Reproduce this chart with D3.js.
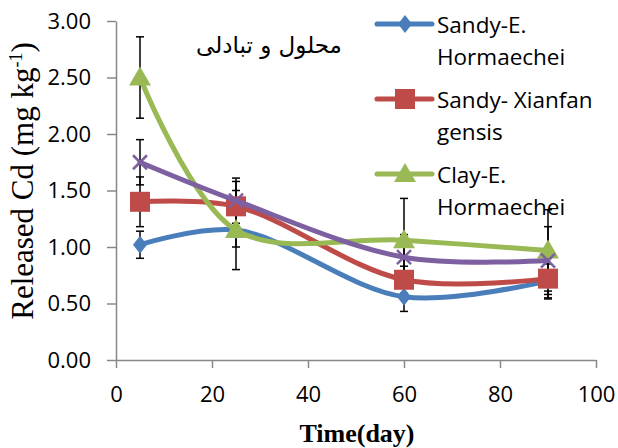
<!DOCTYPE html>
<html>
<head>
<meta charset="utf-8">
<script src="https://cdn.jsdelivr.net/npm/d3@7"></script>
<style>
  body { margin: 0; background: #fff; }
  svg { display: block; }
</style>
</head>
<body>
<div class="canvas"></div>
<script>
// data
const days = [5, 25, 60, 90];
const sandyEH = [1.02, 1.15, 0.56, 0.70];
const sandyEHErr = [0.12, 0.15, 0.13, 0.15];
const sandyXG = [1.40, 1.36, 0.71, 0.72];
const sandyXGErr = [0.22, 0.22, 0.12, 0.18];
const clayEH = [2.50, 1.15, 1.06, 0.97];
const clayEHErr = [0.36, 0.35, 0.37, 0.36];
const clayXG = [1.75, 1.41, 0.91, 0.88];
const clayXGErr = [0.20, 0.20, 0.20, 0.30];
const xTicks = [0, 20, 40, 60, 80, 100];
const yTicks = [0, 0.5, 1, 1.5, 2, 2.5, 3];

const series = [
  { name: ['Sandy-E.', 'Hormaechei'], values: sandyEH, err: sandyEHErr, colour: '#4a7ebb', shape: 'diamond' },
  { name: ['Sandy- Xianfan', 'gensis'], values: sandyXG, err: sandyXGErr, colour: '#be4b48', shape: 'square' },
  { name: ['Clay-E.', 'Hormaechei'], values: clayEH, err: clayEHErr, colour: '#98b954', shape: 'triangle' },
  { name: null, values: clayXG, err: clayXGErr, colour: '#7d60a0', shape: 'x' }
];

const dims = { width: 618, height: 448 };
const plot = { left: 116, right: 596, top: 21, bottom: 360 };

const svg = d3.select('.canvas')
  .append('svg')
  .attr('width', dims.width)
  .attr('height', dims.height);

const x = d3.scaleLinear().domain([0, 100]).range([plot.left, plot.right]);
const y = d3.scaleLinear().domain([0, 3]).range([plot.bottom, plot.top]);

const tickFont = '"Open Sans", sans-serif';

// axes
const xAxis = svg.append('g')
  .attr('transform', `translate(0, ${plot.bottom})`)
  .call(d3.axisBottom(x).tickValues(xTicks).tickSize(8).tickSizeOuter(0).tickPadding(18));
const yAxis = svg.append('g')
  .attr('transform', `translate(${plot.left}, 0)`)
  .call(d3.axisLeft(y).tickValues(yTicks).tickSize(9).tickSizeOuter(0).tickPadding(16).tickFormat(d3.format('.2f')));

[xAxis, yAxis].forEach(ax => {
  ax.select('.domain').attr('stroke', '#888').attr('stroke-width', 1.5);
  ax.selectAll('.tick line').attr('stroke', '#888').attr('stroke-width', 1.5);
  ax.selectAll('.tick text').attr('fill', '#000')
    .style('font-family', tickFont).style('font-size', '22px');
});

// axis titles
svg.append('text')
  .attr('x', 357).attr('y', 442)
  .attr('text-anchor', 'middle')
  .style('font-family', '"Liberation Serif", serif')
  .style('font-weight', 'bold')
  .style('font-size', '26px')
  .text('Time(day)');

const yTitle = svg.append('text')
  .attr('transform', 'translate(33, 181) rotate(-90)')
  .attr('text-anchor', 'middle')
  .style('font-family', '"Liberation Serif", serif')
  .style('font-size', '31px');
yTitle.append('tspan').text('Released Cd (mg kg');
yTitle.append('tspan').attr('dy', -11).style('font-size', '18px').text('-1');
yTitle.append('tspan').attr('dy', 11).text(')');

// persian note
svg.append('text')
  .attr('x', 269).attr('y', 53)
  .attr('text-anchor', 'middle')
  .style('font-family', '"DejaVu Sans", sans-serif')
  .style('font-size', '23px')
  .text('محلول و تبادلی');

// legend (drawn under the data, as in the original)
const legendRows = [24, 99, 174];
series.filter(s => s.name).forEach((s, i) => {
  const g = svg.append('g').attr('transform', `translate(377, ${legendRows[i]})`);
  g.append('line').attr('x1', 0).attr('x2', 55).attr('stroke', s.colour).attr('stroke-width', 5).attr('stroke-linecap', 'round');
  const m = g.append('g').attr('transform', 'translate(28, 0)');
  marker(m, s.shape, s.colour);
  s.name.forEach((t, j) => g.append('text')
    .attr('x', 60).attr('y', 9 + j * 32)
    .style('font-family', tickFont).style('font-size', '22.5px')
    .text(t));
});

function marker(g, shape, colour) {
  if (shape === 'diamond') {
    g.append('path').attr('d', 'M0,-9L7,0L0,9L-7,0Z').attr('fill', colour);
  } else if (shape === 'square') {
    g.append('rect').attr('x', -10).attr('y', -10).attr('width', 20).attr('height', 20).attr('fill', colour);
  } else if (shape === 'triangle') {
    g.append('path').attr('d', 'M0,-11L11,8L-11,8Z').attr('fill', colour);
  } else {
    g.append('path').attr('d', 'M-7,-7L7,7M-7,7L7,-7').attr('stroke', colour).attr('stroke-width', 2.5);
  }
}

const line = d3.line()
  .x((d, i) => x(days[i]))
  .y(d => y(d))
  .curve(d3.curveCatmullRom.alpha(0.5));

// error bars
const errGroup = svg.append('g');
series.forEach(s => {
  s.values.forEach((v, i) => {
    const cx = x(days[i]);
    const top = y(v + s.err[i]), bot = y(v - s.err[i]);
    errGroup.append('line').attr('x1', cx).attr('x2', cx).attr('y1', top).attr('y2', bot)
      .attr('stroke', '#000').attr('stroke-width', 1.5);
    [top, bot].forEach(yy => errGroup.append('line')
      .attr('x1', cx - 4).attr('x2', cx + 4).attr('y1', yy).attr('y2', yy)
      .attr('stroke', '#000').attr('stroke-width', 1.5));
  });
});

// lines and markers
series.forEach(s => {
  svg.append('path')
    .attr('d', line(s.values))
    .attr('fill', 'none')
    .attr('stroke', s.colour)
    .attr('stroke-width', 5)
    .attr('stroke-linecap', 'round');
  s.values.forEach((v, i) => {
    const g = svg.append('g').attr('transform', `translate(${x(days[i])}, ${y(v)})`);
    marker(g, s.shape, s.colour);
  });
});
</script>
</body>
</html>
